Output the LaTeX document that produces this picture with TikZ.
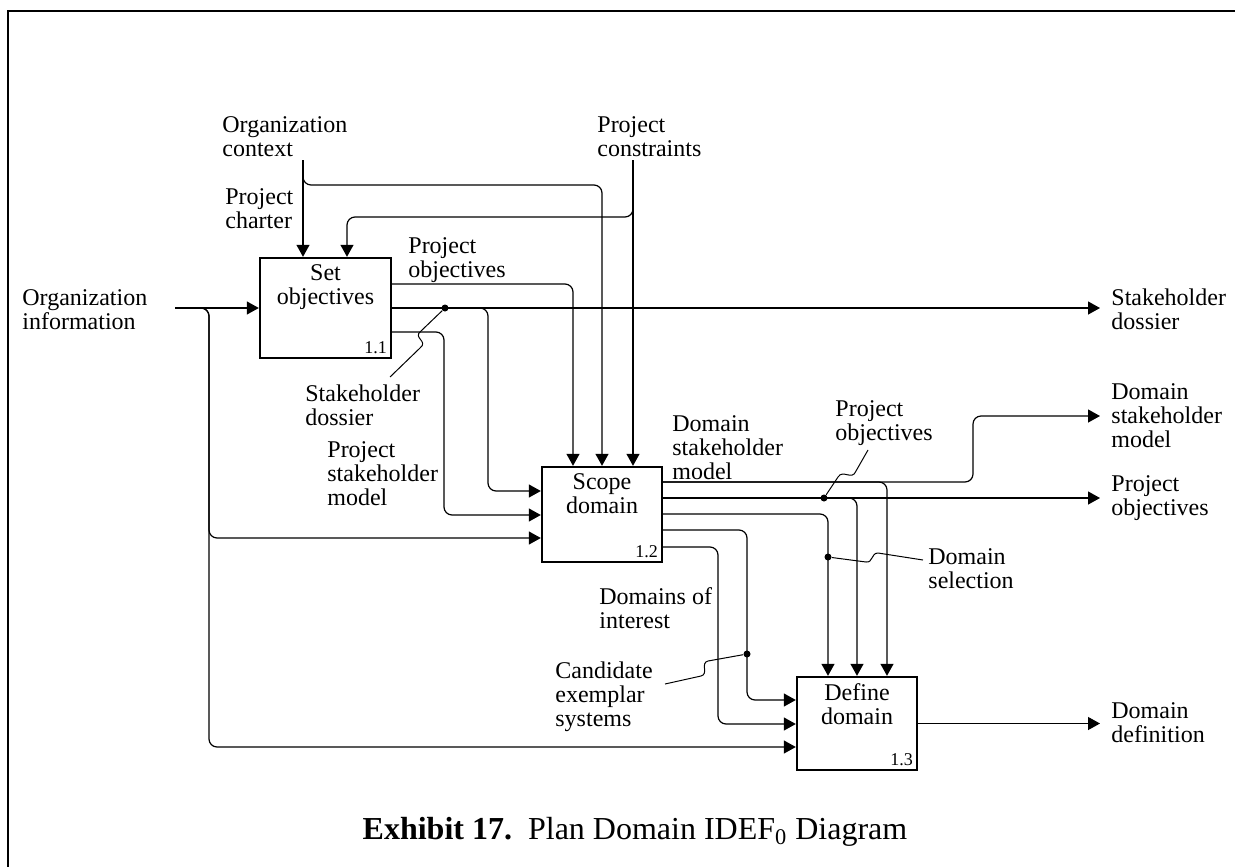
\documentclass[tikz,border=0pt]{standalone}
\usepackage{fontspec}
\setmainfont{Liberation Serif}
\usetikzlibrary{arrows.meta}

\begin{document}
\begin{tikzpicture}[x=0.5pt,y=-0.5pt,
    every node/.style={font=\fontsize{12}{12}\selectfont},
    box/.style={draw,line width=1.2pt,inner sep=0pt,minimum width=60pt,minimum height=47.5pt},
    title/.style={align=center,anchor=north,inner sep=3.5pt},
    num/.style={anchor=south east,inner sep=2.5pt,font=\fontsize{9}{9}\selectfont},
    txt/.style={align=left,anchor=west,inner sep=0pt},
    wire/.style={line width=0.6pt,rounded corners=4pt},
    flow/.style={wire,-{Triangle[length=6pt,width=6.5pt]}},
    lead/.style={line width=0.5pt},
    tap/.style={circle,fill,inner sep=0pt,minimum size=3.5pt}]
    \useasboundingbox (0,0) rectangle (1235,867);

    % Frame
    \draw [line width=0.8pt] (1235,11) -- (8,11) -- (8,867);

    % Activity boxes
    \node (SO) at (325.5,308) [box,minimum width=65.5pt,minimum height=50pt] {};
    \node (SOt) at (SO.north) [title] {Set\\objectives};
    \node (SOn) at (SO.south east) [num] {1.1};

    \node (SC) at (602,514.5) [box] {};
    \node (SCt) at (SC.north) [title] {Scope\\domain};
    \node (SCn) at (SC.south east) [num] {1.2};

    \node (DF) at (857,723.5) [box,minimum height=46.5pt] {};
    \node (DFt) at (DF.north) [title] {Define\\domain};
    \node (DFn) at (DF.south east) [num] {1.3};

    % Labels
    \node (orgctx) at (222,137) [txt] {Organization\\context};
    \node (prjcon) at (597,137) [txt] {Project\\constraints};
    \node (charter) at (225,209) [txt] {Project\\charter};
    \node (orginf) at (22,310) [txt] {Organization\\information};
    \node (prjobjA) at (408,260) [txt] {Project\\objectives};
    \node (stkdosA) at (305,405) [txt] {Stakeholder\\dossier};
    \node (prjstk) at (327,474) [txt] {Project\\stakeholder\\model};
    \node (domstkA) at (672,448) [txt] {Domain\\stakeholder\\model};
    \node (prjobjB) at (835,423) [txt] {Project\\objectives};
    \node (domsel) at (928,569) [txt] {Domain\\selection};
    \node (domint) at (599,608) [txt] {Domains of\\interest};
    \node (candex) at (555,697) [txt] {Candidate\\exemplar\\systems};
    \node (stkdosB) at (1111,309) [txt] {Stakeholder\\dossier};
    \node (domstkB) at (1111,416) [txt] {Domain\\stakeholder\\model};
    \node (prjobjC) at (1111,498) [txt] {Project\\objectives};
    \node (domdef) at (1111,723) [txt] {Domain\\definition};

    % Free ends
    \coordinate (OI) at (175,308);
    \coordinate (OC) at (303,160);
    \coordinate (PC) at (633,160);
    \coordinate (SDo) at (1100,308);
    \coordinate (DSo) at (1100,416);
    \coordinate (POo) at (1100,498);
    \coordinate (DDo) at (1100,723.5);

    % Organization information
    \draw [flow] (OI) -- (SO.west);
    \draw [flow] (OI) -| (209,538) -- (SC.west |- 0,538);
    \draw [flow] (OI) -| (209,747) -- (DF.west |- 0,747);

    % Organization context
    \draw [flow] (OC) -- (OC |- SO.north);
    \draw [flow] (OC) |- (602,185) -- (SC.north);

    % Project constraints
    \draw [flow] (PC) -- (PC |- SC.north);
    \draw [flow] (PC) |- (347,217) -- (SO.north -| 347,0);

    % Set objectives outputs
    \draw [flow] (SO.east |- 0,284) -| (SC.north -| 573,0);
    \draw [flow] (SO.east) -- (SDo);
    \draw [flow] (SO.east) -| (488,491) -- (SC.west |- 0,491);
    \draw [flow] (SO.east |- 0,332) -| (444,515) -- (SC.west |- 0,515);

    % Scope domain outputs
    \draw [flow] (SC.east |- 0,482) -| (973,416) -- (DSo);
    \draw [flow] (SC.east |- 0,482) -| (DF.north -| 887,0);
    \draw [flow] (SC.east |- 0,498) -- (POo);
    \draw [flow] (SC.east |- 0,498) -| (DF.north);
    \draw [flow] (SC.east |- 0,514) -| (DF.north -| 828,0);
    \draw [flow] (SC.east |- 0,530) -| (747,700) -- (DF.west |- 0,700);
    \draw [flow] (SC.east |- 0,547) -| (718,724) -- (DF.west |- 0,724);

    % Define domain output
    \draw [flow] (DF.east) -- (DDo);

    % Branch dots and leaders
    \node (tA) at (445,308) [tap] {};
    \draw [lead] (tA) -- (421,331) .. controls (412,338) and (429,341) .. (420,348) -- (390,377);
    \node (tB) at (824,498) [tap] {};
    \draw [lead] (tB) -- (838,477) .. controls (843,469) and (852,481) .. (856,471) -- (868,450);
    \node (tC) at (828,557) [tap] {};
    \draw [lead] (tC) -- (866,562) .. controls (873,563) and (871,553) .. (878,553) -- (923,560);
    \node (tD) at (747,654) [tap] {};
    \draw [lead] (tD) -- (708,661) .. controls (700,663) and (709,674) .. (701,676) -- (665,684);

    % Caption
    \node (cap) at (635,832) {\fontsize{16}{16}\selectfont\textbf{Exhibit 17.}\enspace Plan Domain IDEF\textsubscript{0} Diagram};
\end{tikzpicture}
\end{document}
